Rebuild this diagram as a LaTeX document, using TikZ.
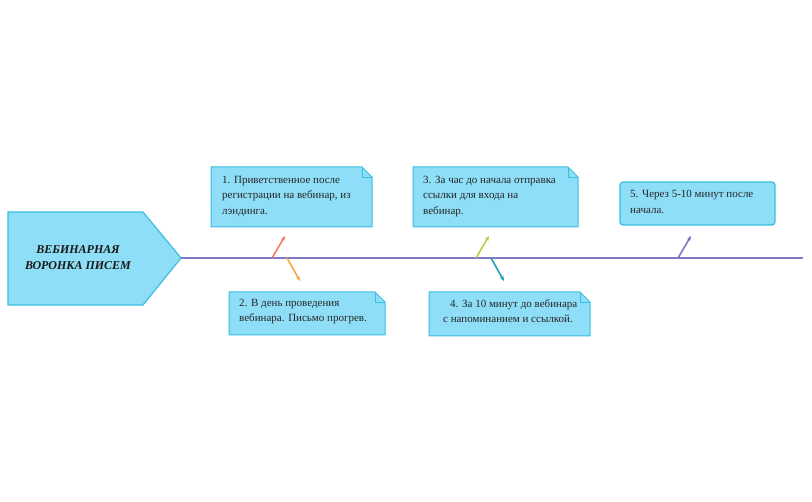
\documentclass[tikz,border=0pt]{standalone}
\usepackage{fontspec}
\setmainfont{Liberation Serif}
\usetikzlibrary{backgrounds,arrows.meta}
\definecolor{boxfill}{HTML}{8EDEF7}
\definecolor{boxline}{HTML}{3ABFE0}
\definecolor{spine}{HTML}{8079C6}
\tikzset{
  txt/.style={anchor=north west,inner sep=0pt,align=left,font=\fontsize{11}{15.5}\selectfont,text=black!85},
  folded/.style={fill=boxfill,draw=boxline,line width=1pt},
  bone/.style={line width=1.5pt,-{Stealth[length=5pt,width=4pt]}},
}
\newcommand{\foldbox}[5]{% name, x1,y1,x2,y2
  \begin{scope}[on background layer]
  \draw[folded] (#2,#3) -- (#4-10,#3) -- (#4,#3+10) -- (#4,#5) -- (#2,#5) -- cycle;
  \draw[boxline,line width=0.7pt] (#4-10,#3) -- (#4-10,#3+10) -- (#4,#3+10);
  \end{scope}}
\begin{document}
\begin{tikzpicture}[x=1pt,y=-1pt]
\useasboundingbox (0,0) rectangle (812,502);
% head
\draw[fill=boxfill,draw=boxline,line width=1.2pt] (8,212) -- (143,212) -- (181,258) -- (143,305) -- (8,305) -- cycle;
\node[align=center,font=\fontsize{12}{16}\selectfont\bfseries\itshape,text=black!90] (head) at (78,258) {ВЕБИНАРНАЯ\\ВОРОНКА ПИСЕМ};
\coordinate (s0) at (181,258);
\coordinate (s1) at (803,258);
\draw[spine,line width=1.2pt] (s0) -- (s1);
% boxes
\foldbox{b1}{211}{167}{372}{227}
\node[txt] (b1) at (222,176) {1. Приветственное после\\регистрации на вебинар, из\\лэндинга.};
\foldbox{b2}{229}{292}{385}{335}
\node[txt] (b2) at (239,299) {2. В день проведения\\вебинара. Письмо прогрев.};
\foldbox{b3}{413}{167}{578}{227}
\node[txt] (b3) at (423,176) {3. За час до начала отправка\\ссылки для входа на\\вебинар.};
\foldbox{b4}{429}{292}{590}{336}
\node[txt] (b4) at (450,299) {4. За 10 минут до вебинара\\\hspace*{-7pt}с напоминанием и ссылкой.};
\draw[fill=boxfill,draw=boxline,line width=1.2pt,rounded corners=3pt] (620,182) rectangle (775,225);
\node[txt] (b5) at (630,190) {5. Через 5-10 минут после\\начала.};
% arrows
\coordinate (a1) at (272,258); \coordinate (e1) at (285,236);
\coordinate (a2) at (287,258); \coordinate (e2) at (300,281);
\coordinate (a3) at (476,258); \coordinate (e3) at (489,236);
\coordinate (a4) at (491,258); \coordinate (e4) at (504,281);
\coordinate (a5) at (678,258); \coordinate (e5) at (691,236);
\draw[bone,color={rgb,255:red,242;green,122;blue,90}] (a1) -- (e1);
\draw[bone,color={rgb,255:red,246;green,165;blue,58}] (a2) -- (e2);
\draw[bone,color={rgb,255:red,181;green,204;blue,58}] (a3) -- (e3);
\draw[bone,color={rgb,255:red,26;green,156;blue,176}] (a4) -- (e4);
\draw[bone,color={rgb,255:red,123;green,111;blue,200}] (a5) -- (e5);
\end{tikzpicture}
\end{document}
